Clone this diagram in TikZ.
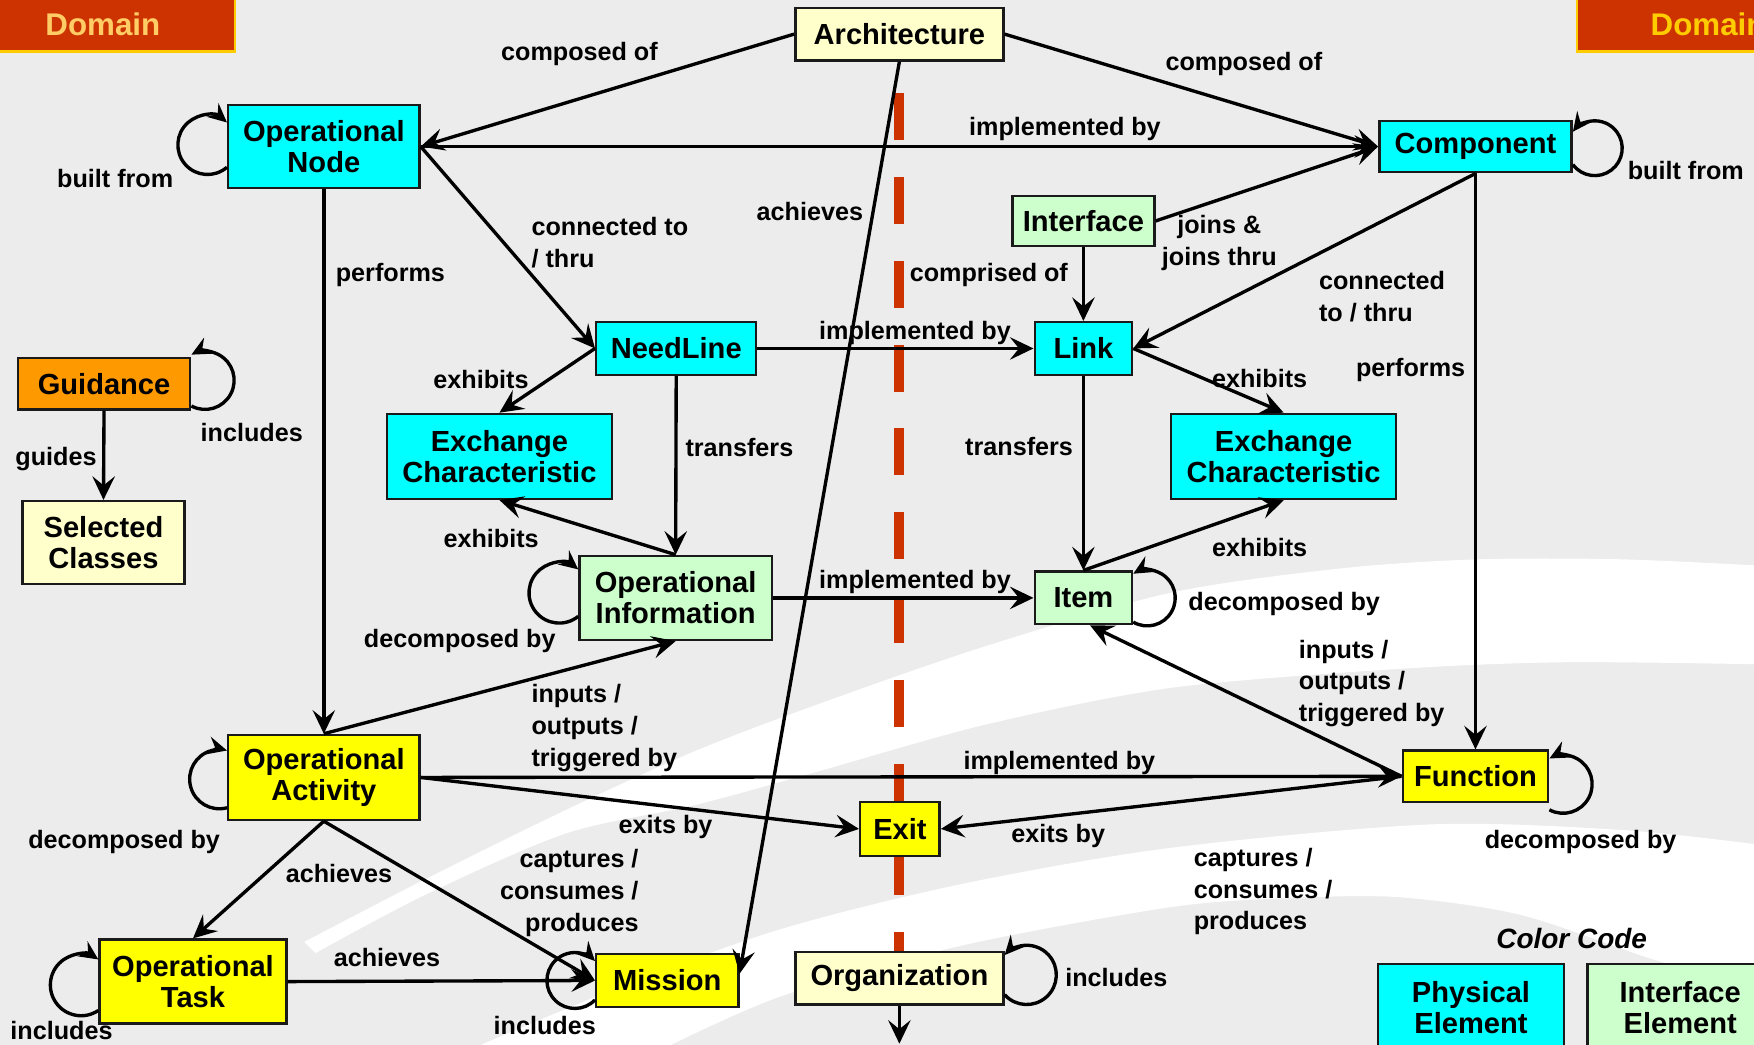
\documentclass[tikz,border=0pt]{standalone}
\usepackage{fontspec}
\setmainfont{Liberation Sans}
\usetikzlibrary{arrows.meta}
\definecolor{bggray}{HTML}{EBECEB}
\definecolor{cyanbox}{HTML}{00FFFF}
\definecolor{greenbox}{HTML}{CCFFCC}
\definecolor{yellowbox}{HTML}{FFFF00}
\definecolor{paleyellow}{HTML}{FFFFCC}
\definecolor{orangebox}{HTML}{FF9900}
\definecolor{domainred}{HTML}{CC3300}
\definecolor{domainedge}{HTML}{FFCC00}
\definecolor{domaintextL}{HTML}{FFCC66}
\definecolor{domaintextR}{HTML}{FFCC00}
\definecolor{boxline}{HTML}{1A1A1A}
\newcommand\loopLeft[4]{%
  \draw[loopc] (#1.west) ++(0,{#4-#3*sin(#2)}) arc[start angle={-#2}, end angle={#2-360}, radius=#3pt];}
\newcommand\loopRight[4]{%
  \draw[loopc] (#1.east) ++(0,{#4-#3*sin(#2)}) arc[start angle={180+#2}, end angle={540-#2}, radius=#3pt];}
\begin{document}
\begin{tikzpicture}[x=1pt,y=1pt,
  box/.style={draw=boxline, line width=2.2pt, inner sep=0pt, align=center,
    font=\fontsize{26}{28}\selectfont\bfseries, text=black},
  lbl/.style={inner sep=0pt, align=center, font=\fontsize{22.5}{28.5}\selectfont\bfseries},
  conn/.style={line width=3pt, -{Stealth[length=21pt,width=20pt,inset=8pt]}},
  loopc/.style={line width=3pt, -{Stealth[length=17pt,width=16pt,inset=6pt]}},
  domainbox/.style={draw=domainedge, line width=2pt, fill=domainred, minimum width=236pt, minimum height=90pt},
  domaintext/.style={inner sep=0pt, font=\fontsize{28}{30}\selectfont\bfseries},
]
\useasboundingbox (0,0) rectangle (1568,-934);
\clip (0,0) rectangle (1568,-934);
% background
\fill[bggray] (0,0) rectangle (1568,-934);
\fill[white] plot[smooth] coordinates {(272,-842) (380,-786) (506,-724) (620,-672) (730,-630) (880,-578) (1046,-530) (1200,-508) (1322,-500) (1450,-500) (1580,-506)}
  -- plot[smooth] coordinates {(1580,-594) (1400,-592) (1250,-598) (1046,-615) (880,-648) (730,-690) (620,-720) (506,-745) (380,-800) (282,-852)} -- cycle;
\fill[white] plot[smooth] coordinates {(430,-934) (560,-880) (700,-830) (861,-790) (1046,-758) (1278,-737) (1450,-742) (1580,-756)}
  -- plot[smooth] coordinates {(1580,-885) (1479,-858) (1360,-818) (1250,-802) (1150,-803) (1046,-811) (861,-845) (700,-890) (600,-934)} -- cycle;
% red divider
\draw[domainred, line width=9pt, dash pattern=on 42pt off 33pt] (804,-83) -- (804,-851);
% domain boxes (cut by the frame)
\node[domainbox] (domL) at (92,-1) {};
\node[domaintext, text=domaintextL] (domLt) at (92,-21.5) {Domain};
\node[domainbox] (domR) at (1528,-1) {};
\node[domaintext, text=domaintextR] (domRt) at (1527,-21.5) {Domain};
% nodes
\node[box, fill=paleyellow, minimum width=186pt, minimum height=47pt] (arch) at (804,-30.5) {Architecture};
\node[box, fill=cyanbox, minimum width=171pt, minimum height=74pt] (on) at (289.5,-131) {Operational\\Node};
\node[box, fill=cyanbox, minimum width=172pt, minimum height=46pt] (comp) at (1319,-131) {Component};
\node[box, fill=greenbox, minimum width=127pt, minimum height=45pt] (iface) at (968.5,-197.5) {Interface};
\node[box, fill=orangebox, minimum width=154pt, minimum height=46pt] (guid) at (93,-343) {Guidance};
\node[box, fill=paleyellow, minimum width=145pt, minimum height=74pt] (sel) at (92.5,-485) {Selected\\Classes};
\node[box, fill=cyanbox, minimum width=143pt, minimum height=47pt] (nl) at (604.5,-311.5) {NeedLine};
\node[box, fill=cyanbox, minimum width=87pt, minimum height=47pt] (link) at (968.5,-311.5) {Link};
\node[box, fill=cyanbox, minimum width=201pt, minimum height=76pt] (exl) at (446.5,-408) {Exchange\\Characteristic};
\node[box, fill=cyanbox, minimum width=201pt, minimum height=76pt] (exr) at (1147.5,-408) {Exchange\\Characteristic};
\node[box, fill=greenbox, minimum width=172pt, minimum height=75pt] (oi) at (604,-534.5) {Operational\\Information};
\node[box, fill=greenbox, minimum width=87pt, minimum height=47pt] (item) at (968.5,-534.5) {Item};
\node[box, fill=yellowbox, minimum width=171pt, minimum height=76pt] (oa) at (289.5,-695) {Operational\\Activity};
\node[box, fill=yellowbox, minimum width=130pt, minimum height=46pt] (func) at (1319,-694) {Function};
\node[box, fill=yellowbox, minimum width=71pt, minimum height=48pt] (exit) at (804.5,-741) {Exit};
\node[box, fill=yellowbox, minimum width=167pt, minimum height=75pt] (ot) at (172.5,-877.5) {Operational\\Task};
\node[box, fill=yellowbox, minimum width=127pt, minimum height=47pt] (mission) at (596.5,-876.5) {Mission};
\node[box, fill=paleyellow, minimum width=186pt, minimum height=47pt] (org) at (804,-874.5) {Organization};
\node[box, fill=cyanbox, minimum width=166pt, minimum height=78pt] (phys) at (1315,-901) {Physical\\Element};
\node[box, fill=greenbox, minimum width=166pt, minimum height=78pt] (ifel) at (1502,-901) {Interface\\Element};
\coordinate (orgout) at (804,-933);
% connectors
\draw[conn] (arch.west) -- (on.east);
\draw[conn] (arch.east) -- (comp.west);
\draw[conn] (on.east) -- (comp.west);
\draw[conn] (iface.east) -- (comp.west);
\draw[conn] (iface.south) -- (link.north);
\draw[conn] (comp.south) -- (link.east);
\draw[conn] (comp.south) -- (func.north);
\draw[conn] (on.east) -- (nl.west);
\draw[conn] (on.south) -- (oa.north);
\draw[conn] (arch.south) -- ([yshift=6pt]mission.east);
\draw[conn] (nl.east) -- (link.west);
\draw[conn] (nl.west) -- (exl.north);
\draw[conn] (nl.south) -- (oi.north);
\draw[conn] (oi.north) -- (exl.south);
\draw[conn] (oi.east) -- (item.west);
\draw[conn] (link.south) -- (item.north);
\draw[conn] (link.east) -- (exr.north);
\draw[conn] (item.north) -- (exr.south);
\draw[conn] (func.west) -- ([xshift=6pt]item.south);
\draw[conn] (oa.north) -- (oi.south);
\draw[conn] (oa.east) -- (func.west);
\draw[conn] (oa.east) -- (exit.west);
\draw[conn] (func.west) -- (exit.east);
\draw[conn] (oa.south) -- (ot.north);
\draw[conn] (oa.south) -- (mission.west);
\draw[conn] (ot.east) -- (mission.west);
\draw[conn] (org.south) -- (orgout);
\draw[conn] (guid.south) -- (sel.north);
% self loops
\loopLeft{on}{49}{26.5}{1.5}
\loopRight{comp}{37}{24.5}{-1.5}
\loopRight{guid}{62}{26}{3}
\loopRight{item}{60}{25}{0}
\loopRight{func}{62}{26}{-7}
\loopRight{org}{42}{26.5}{3}
\loopLeft{oi}{51}{27}{4.5}
\loopLeft{oa}{75}{26.5}{-1.5}
\loopLeft{ot}{56}{27.5}{-3}
\loopLeft{mission}{44}{25}{0}
% labels
\node[lbl] (t1) at (518,-48) {composed of};
\node[lbl] (t2) at (1112,-57) {composed of};
\node[lbl] (t3) at (952,-115) {implemented by};
\node[lbl] (t4) at (103,-160) {built from};
\node[lbl] (t5) at (1507,-152) {built from};
\node[lbl] (t6) at (724,-189) {achieves};
\node[lbl, align=left, anchor=west] (t7) at (475,-217) {connected to\\/ thru};
\node[lbl] (t8) at (349,-246) {performs};
\node[lbl] (t9) at (1090,-217) {joins \&\\joins thru};
\node[lbl] (t10) at (884,-246) {comprised of};
\node[lbl, align=left, anchor=west] (t11) at (1179,-265) {connected\\to / thru};
\node[lbl] (t12) at (818,-298) {implemented by};
\node[lbl] (t13) at (430,-339) {exhibits};
\node[lbl] (t14) at (1126,-338) {exhibits};
\node[lbl] (t15) at (1261,-331) {performs};
\node[lbl] (t16) at (225,-387) {includes};
\node[lbl] (t17) at (50,-410) {guides};
\node[lbl] (t18) at (661,-400) {transfers};
\node[lbl] (t19) at (911,-399) {transfers};
\node[lbl] (t20) at (439,-481) {exhibits};
\node[lbl] (t21) at (1126,-489) {exhibits};
\node[lbl] (t22) at (818,-520) {implemented by};
\node[lbl] (t23) at (1148,-540) {decomposed by};
\node[lbl] (t24) at (411,-573) {decomposed by};
\node[lbl, align=left, anchor=west] (t25) at (475,-651) {inputs /\\outputs /\\triggered by};
\node[lbl, align=left, anchor=west] (t26) at (1161,-611) {inputs /\\outputs /\\triggered by};
\node[lbl] (t27) at (947,-682) {implemented by};
\node[lbl] (t28) at (595,-739) {exits by};
\node[lbl] (t29) at (946,-747) {exits by};
\node[lbl] (t30) at (111,-753) {decomposed by};
\node[lbl] (t31) at (1413,-753) {decomposed by};
\node[lbl] (t32) at (303,-781) {achieves};
\node[lbl, align=right, anchor=east] (t33) at (571,-798) {captures /\\consumes /\\produces};
\node[lbl, align=left, anchor=west] (t34) at (1067,-797) {captures /\\consumes /\\produces};
\node[lbl] (t35) at (346,-856) {achieves};
\node[lbl] (t36) at (55,-921) {includes};
\node[lbl] (t37) at (487,-917) {includes};
\node[lbl] (t38) at (998,-874) {includes};
\node[lbl, font=\fontsize{25}{28}\selectfont\bfseries\itshape] (cc) at (1405,-839) {Color Code};
\end{tikzpicture}
\end{document}
